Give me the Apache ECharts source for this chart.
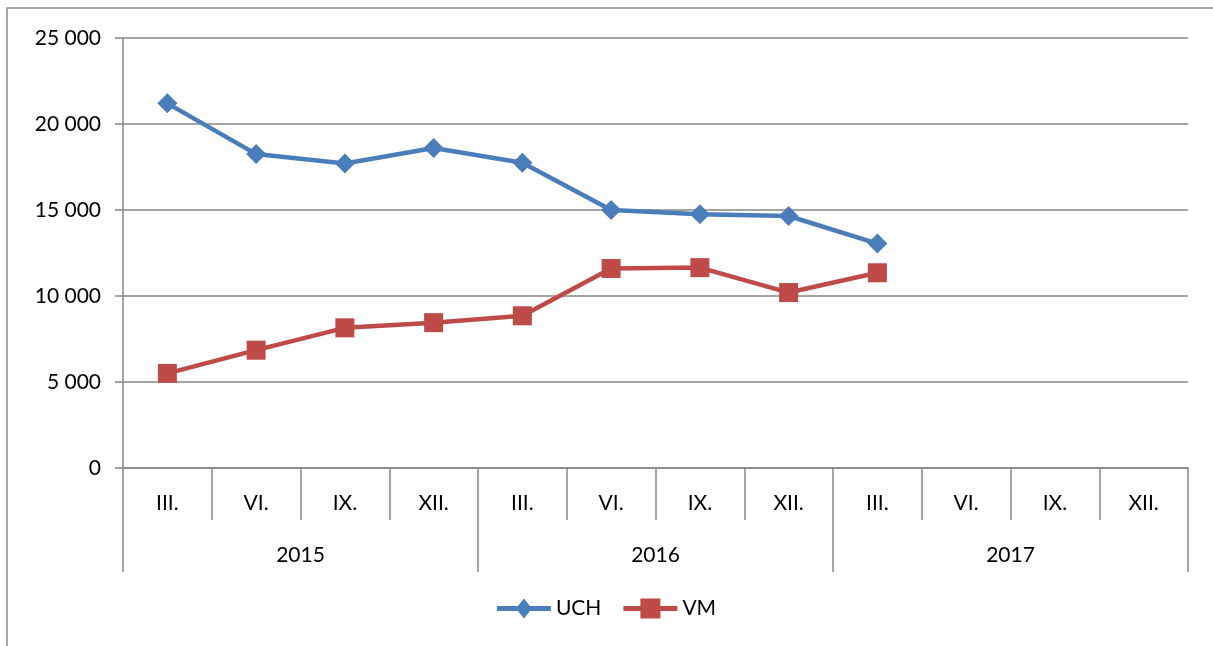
<!DOCTYPE html>
<html>
<head>
<meta charset="utf-8">
<script src="https://cdn.jsdelivr.net/npm/echarts@6/dist/echarts.min.js"></script>
<style>
html,body{margin:0;padding:0;background:#fff;}
#main{width:1213px;height:646px;}
</style>
</head>
<body>
<div id="main"></div>
<script>
var quarters = ['III.', 'VI.', 'IX.', 'XII.', 'III.', 'VI.', 'IX.', 'XII.', 'III.', 'VI.', 'IX.', 'XII.'];
var years = ['2015', '2016', '2017'];
var uch = [21200, 18250, 17700, 18600, 17750, 15000, 14750, 14650, 13050, null, null, null];
var vm = [5500, 6850, 8150, 8450, 8850, 11600, 11650, 10200, 11350, null, null, null];

var myChart = echarts.init(document.getElementById('main'));
var gray = '#868686';
var font = 'Lato';
var fs = 21;
// legend icons: thick line with the marker in the middle
var iconDiamond = 'path://M0,7.5L21,7.5L27,0L33,7.5L54,7.5L54,12.5L33,12.5L27,20L21,12.5L0,12.5Z';
var iconSquare = 'path://M0,7.5L17,7.5L17,0L37,0L37,7.5L54,7.5L54,12.5L37,12.5L37,20L17,20L17,12.5L0,12.5Z';

var option = {
    animation: false,
    textStyle: {fontFamily: font},
    graphic: [{
        type: 'rect',
        shape: {x: 7, y: 8, width: 1300, height: 800},
        style: {fill: 'none', stroke: '#8c8c8c', lineWidth: 1.5},
        silent: true
    }],
    grid: {left: 123, right: 25, top: 38, bottom: 178},
    legend: {
        bottom: 22,
        left: 'center',
        itemWidth: 54,
        itemHeight: 20,
        itemGap: 22,
        textStyle: {fontSize: fs, color: '#000', fontFamily: font},
        data: [{name: 'UCH', icon: iconDiamond}, {name: 'VM', icon: iconSquare}]
    },
    xAxis: [{
        type: 'category',
        data: quarters,
        position: 'bottom',
        axisLine: {lineStyle: {color: gray, width: 1.5}},
        axisTick: {show: true, length: 52, lineStyle: {color: gray, width: 1.5}},
        axisLabel: {margin: 25, fontSize: fs, color: '#000', fontFamily: font}
    }, {
        type: 'category',
        data: years,
        position: 'bottom',
        axisLine: {show: false},
        axisTick: {show: true, length: 104, lineStyle: {color: gray, width: 1.5}},
        axisLabel: {margin: 77, fontSize: fs, color: '#000', fontFamily: font}
    }],
    yAxis: {
        type: 'value',
        min: 0,
        max: 25000,
        interval: 5000,
        axisLine: {show: true, lineStyle: {color: gray, width: 1.5}},
        axisTick: {show: true, length: 8, lineStyle: {color: gray, width: 1.5}},
        splitLine: {lineStyle: {color: gray, width: 1.5}},
        axisLabel: {
            margin: 22,
            fontSize: fs,
            color: '#000',
            fontFamily: font,
            formatter: function (v) {
                return String(v).replace(/\B(?=(\d{3})+(?!\d))/g, ' ');
            }
        }
    },
    series: [{
        name: 'UCH',
        type: 'line',
        data: uch,
        symbol: 'diamond',
        symbolSize: 20,
        lineStyle: {width: 4.5, color: '#4a7ebb'},
        itemStyle: {color: '#4a7ebb'}
    }, {
        name: 'VM',
        type: 'line',
        data: vm,
        symbol: 'rect',
        symbolSize: 19,
        lineStyle: {width: 4.5, color: '#be4b48'},
        itemStyle: {color: '#be4b48'}
    }]
};
myChart.setOption(option);
</script>
</body>
</html>
